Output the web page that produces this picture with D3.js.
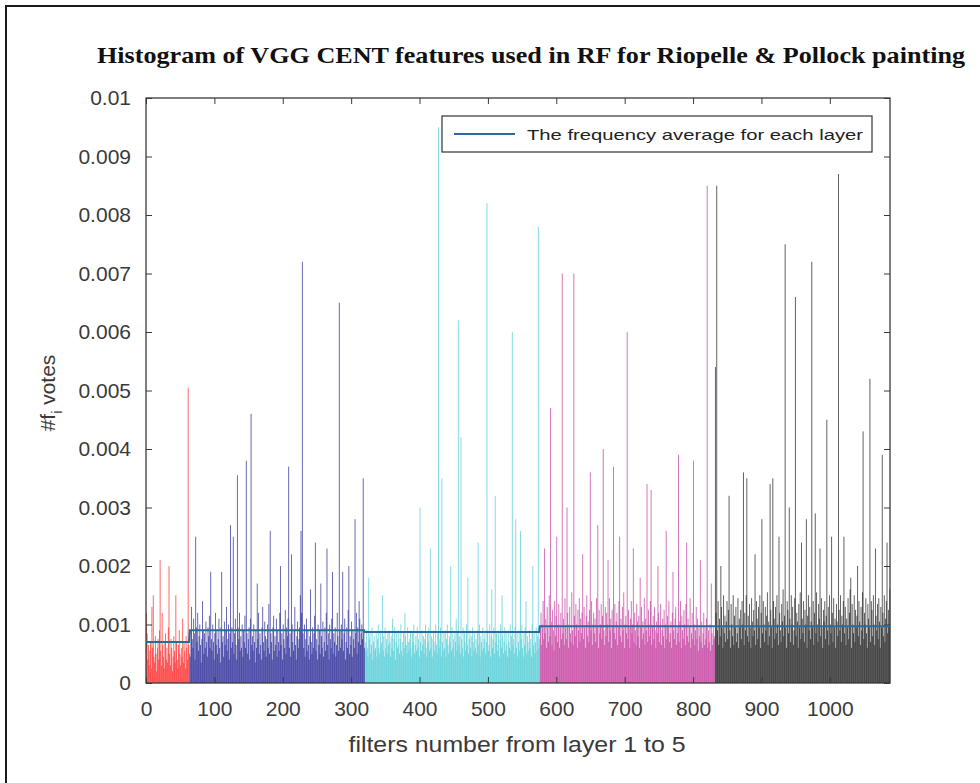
<!DOCTYPE html>
<html>
<head>
<meta charset="utf-8">
<script src="https://cdn.jsdelivr.net/npm/d3@7"></script>
<style>
  body { margin: 0; background: #fff; }
  svg { display: block; }
</style>
</head>
<body>
<div id="histogram"></div>
<script>
// votes per filter, in units of 1e-5
const layer1 = [120, 85, 40, 65, 30, 55, 70, 25, 130, 60, 150, 45, 35, 80, 50, 20,
  60, 75, 40, 90, 210, 55, 30, 120, 65, 45, 25, 70, 85, 40, 60, 35,
  95, 200, 50, 30, 75, 60, 20, 45, 80, 55, 35, 150, 70, 40, 25, 65,
  90, 50, 30, 60, 45, 110, 35, 70, 55, 25, 80, 60, 40, 505, 65, 50];

const layer2 = [45, 90, 130, 75, 60, 110, 85, 40, 250, 95, 70, 120, 55, 80, 100, 65,
  35, 75, 140, 90, 50, 85, 60, 105, 70, 45, 95, 80, 115, 60, 190, 75,
  55, 100, 70, 40, 85, 120, 65, 90, 50, 75, 110, 60, 35, 95, 190, 70,
  80, 45, 105, 65, 90, 130, 55, 75, 100, 40, 85, 270, 60, 95, 70, 250,
  50, 85, 110, 65, 40, 355, 95, 75, 120, 55, 80, 60, 100, 45, 90, 70,
  115, 60, 380, 85, 50, 75, 95, 40, 110, 460, 65, 80, 55, 100, 70, 35,
  90, 60, 170, 75, 120, 50, 85, 65, 40, 95, 130, 70, 55, 105, 80, 45,
  75, 100, 60, 135, 50, 260, 85, 70, 40, 95, 115, 55, 80, 65, 110, 45,
  90, 70, 55, 120, 200, 65, 85, 40, 100, 75, 60, 125, 50, 95, 80, 110,
  370, 60, 85, 45, 220, 100, 70, 55, 90, 130, 65, 40, 80, 105, 60, 75,
  95, 150, 260, 120, 720, 85, 60, 100, 45, 75, 110, 55, 90, 65, 40, 80,
  160, 70, 50, 95, 60, 85, 115, 240, 55, 75, 40, 100, 65, 90, 50, 170,
  80, 60, 105, 45, 70, 95, 55, 120, 230, 65, 85, 40, 100, 75, 60, 110,
  190, 50, 85, 70, 95, 45, 65, 120, 80, 55, 650, 90, 60, 100, 75, 190,
  55, 85, 110, 40, 70, 95, 60, 125, 200, 50, 80, 65, 105, 45, 90, 75,
  60, 280, 85, 120, 50, 95, 70, 140, 110, 65, 85, 100, 75, 350, 90, 60];

const layer3 = [70, 55, 90, 60, 45, 180, 75, 85, 50, 65, 95, 40, 70, 80, 55, 60,
  85, 45, 75, 100, 60, 50, 90, 65, 70, 150, 55, 80, 45, 95, 60, 75,
  50, 85, 65, 90, 70, 45, 80, 60, 110, 55, 75, 95, 40, 70, 85, 60,
  65, 90, 50, 75, 100, 55, 70, 45, 85, 60, 120, 80, 65, 50, 95, 70,
  55, 75, 90, 60, 45, 85, 70, 100, 50, 65, 80, 55, 95, 60, 75, 45,
  300, 70, 55, 90, 65, 80, 50, 75, 100, 60, 45, 85, 70, 95, 55, 230,
  60, 80, 45, 75, 90, 55, 70, 100, 65, 50, 85, 950, 60, 75, 95, 45,
  350, 70, 55, 85, 60, 90, 45, 75, 100, 65, 50, 80, 70, 200, 55, 95,
  60, 75, 45, 85, 70, 110, 55, 90, 620, 65, 80, 50, 420, 75, 60, 95,
  45, 85, 70, 55, 100, 65, 180, 50, 75, 90, 60, 80, 45, 95, 70, 55,
  85, 60, 75, 50, 90, 240, 65, 100, 45, 80, 70, 55, 95, 60, 75, 85,
  50, 70, 820, 90, 55, 65, 100, 45, 80, 160, 60, 75, 95, 50, 320, 70,
  85, 55, 65, 90, 45, 75, 100, 60, 150, 80, 50, 70, 95, 55, 85, 65,
  45, 90, 70, 60, 100, 55, 80, 600, 65, 75, 50, 95, 280, 60, 85, 45,
  70, 90, 55, 260, 75, 100, 60, 45, 85, 65, 95, 140, 50, 80, 70, 55,
  90, 60, 75, 45, 100, 200, 65, 85, 50, 70, 95, 55, 80, 780, 60, 75];

const layer4 = [90, 120, 65, 100, 140, 75, 230, 85, 110, 60, 130, 95, 70, 150, 80, 470,
  105, 65, 125, 90, 55, 140, 80, 115, 250, 70, 100, 135, 60, 95, 120, 75,
  700, 85, 110, 65, 145, 95, 75, 300, 120, 60, 100, 130, 85, 70, 155, 90,
  65, 700, 115, 80, 135, 100, 60, 125, 90, 145, 70, 110, 85, 120, 220, 75,
  130, 95, 60, 115, 150, 80, 105, 70, 125, 360, 90, 140, 65, 100, 120, 85,
  110, 70, 145, 95, 270, 60, 125, 85, 100, 135, 75, 115, 400, 90, 65, 130,
  80, 120, 100, 210, 70, 145, 90, 110, 60, 125, 95, 370, 85, 135, 75, 105,
  120, 65, 95, 140, 250, 80, 110, 70, 130, 90, 155, 60, 100, 115, 85, 600,
  75, 125, 95, 60, 110, 140, 85, 100, 230, 70, 120, 90, 65, 135, 105, 80,
  115, 60, 180, 95, 130, 75, 105, 85, 145, 65, 110, 90, 340, 70, 125, 100,
  80, 140, 330, 65, 95, 115, 75, 130, 90, 60, 105, 85, 200, 120, 70, 100,
  135, 65, 90, 110, 80, 125, 60, 100, 260, 75, 115, 95, 140, 70, 85, 105,
  60, 120, 190, 90, 75, 110, 130, 65, 95, 85, 390, 70, 105, 140, 60, 115,
  90, 75, 125, 100, 65, 135, 240, 80, 110, 70, 95, 145, 60, 85, 120, 75,
  380, 100, 65, 90, 130, 75, 110, 55, 95, 80, 210, 70, 105, 60, 85, 120,
  65, 95, 75, 110, 850, 60, 90, 70, 100, 55, 170, 85, 65, 95, 75, 80];

const layer5 = [540, 120, 850, 90, 140, 65, 110, 80, 200, 130, 95, 60, 150, 85, 115, 70,
  105, 140, 75, 125, 320, 90, 60, 135, 100, 80, 150, 65, 115, 95, 130, 70,
  85, 145, 60, 110, 95, 125, 75, 140, 100, 360, 65, 120, 90, 150, 350, 80,
  115, 70, 135, 95, 60, 145, 105, 80, 125, 90, 220, 65, 140, 110, 75, 130,
  95, 150, 60, 120, 280, 85, 140, 100, 70, 130, 90, 115, 155, 65, 105, 80,
  340, 125, 95, 60, 350, 140, 110, 75, 130, 85, 150, 100, 65, 250, 120, 90,
  70, 135, 105, 160, 80, 115, 750, 95, 60, 140, 125, 85, 300, 110, 70, 150,
  100, 130, 65, 90, 145, 660, 80, 120, 105, 60, 135, 95, 155, 75, 240, 110,
  85, 140, 70, 125, 100, 280, 60, 115, 150, 90, 130, 75, 105, 720, 95, 140,
  65, 120, 290, 85, 155, 100, 70, 135, 110, 230, 80, 145, 95, 60, 125, 105,
  140, 75, 115, 450, 90, 130, 65, 150, 100, 85, 250, 120, 70, 145, 95, 110,
  60, 135, 105, 80, 870, 125, 90, 150, 70, 115, 100, 140, 250, 85, 130, 65,
  110, 95, 145, 75, 120, 160, 180, 60, 135, 100, 85, 150, 70, 125, 95, 115,
  200, 80, 140, 105, 65, 130, 90, 155, 430, 75, 120, 100, 145, 85, 60, 135,
  110, 95, 520, 70, 140, 125, 80, 150, 100, 65, 230, 115, 90, 135, 75, 145,
  105, 60, 130, 95, 390, 120, 80, 150, 70, 110, 140, 240, 85, 125, 100, 160];

const layerColors = ['#ff1f1f', '#1f1f92', '#48cad4', '#c0339a', '#141414'];
const layerAverages = [0.0007, 0.0009, 0.00087, 0.00097, 0.00097];

const xTicks = [0, 100, 200, 300, 400, 500, 600, 700, 800, 900, 1000];
const yTicks = [0, 0.001, 0.002, 0.003, 0.004, 0.005, 0.006, 0.007, 0.008, 0.009, 0.01];
const yTickLabels = ['0', '0.001', '0.002', '0.003', '0.004', '0.005', '0.006', '0.007', '0.008', '0.009', '0.01'];

const TITLE = 'Histogram of VGG CENT features used in RF for Riopelle & Pollock painting';
const LEGEND_TEXT = 'The frequency average for each layer';
const XLABEL = 'filters number from layer 1 to 5';

const W = 980, H = 783;
const margin = { top: 98, left: 146, right: 90, bottom: 100 };
const FONT = 'Arial, "Liberation Sans", sans-serif';
const AXIS_COLOR = '#3a3a3a';

// flatten layers into bars
const layers = [layer1, layer2, layer3, layer4, layer5];
let bars = [];
let layerSpans = [];
let start = 0;
layers.forEach((layer, li) => {
    layer.forEach((v, j) => {
        bars.push({ idx: start + j, value: v * 1e-5, layer: li });
    });
    layerSpans.push({ start: start, end: start + layer.length, avg: layerAverages[li] });
    start += layer.length;
});
const N = bars.length;

const xScale = d3.scaleLinear().domain([0, N]).range([margin.left, W - margin.right]);
const yScale = d3.scaleLinear().domain([0, 0.01]).range([H - margin.bottom, margin.top]);
const barW = (xScale(1) - xScale(0)) * 1.3;

const svg = d3.select('#histogram')
    .append('svg')
    .attr('width', W)
    .attr('height', H);

svg.append('rect').attr('width', W).attr('height', H).attr('fill', '#fff');

// outer frame of the figure (only top and left edges show)
svg.append('path')
    .attr('d', `M6,${H} L6,6 L${W},6`)
    .attr('fill', 'none')
    .attr('stroke', '#1a1a1a')
    .attr('stroke-width', 2);

/** title */
svg.append('text')
    .attr('x', 531)
    .attr('y', 63)
    .attr('text-anchor', 'middle')
    .attr('font-family', '"Liberation Serif", "Times New Roman", serif')
    .attr('font-weight', 'bold')
    .attr('font-size', 23)
    .attr('textLength', 868)
    .attr('lengthAdjust', 'spacingAndGlyphs')
    .attr('fill', '#111')
    .text(TITLE);

/** bars */
svg.append('g')
    .selectAll('rect')
    .data(bars)
    .enter()
    .append('rect')
    .attr('x', d => xScale(d.idx))
    .attr('y', d => yScale(d.value))
    .attr('width', barW)
    .attr('height', d => yScale(0) - yScale(d.value))
    .attr('fill', d => layerColors[d.layer])
    .attr('fill-opacity', 0.75);

/** axes: ticks pointing inward, box on */
const plotTop = yScale(0.01), plotBottom = yScale(0);
const plotLeft = xScale(0), plotRight = xScale(N);

function styleAxis(g) {
    g.select('.domain').remove();
    g.selectAll('.tick line').attr('stroke', AXIS_COLOR);
    g.selectAll('.tick text')
        .attr('fill', AXIS_COLOR)
        .style('font-family', FONT)
        .style('font-size', '21px');
}

svg.append('g')
    .attr('transform', `translate(0, ${plotBottom})`)
    .call(d3.axisBottom(xScale).tickValues(xTicks).tickSizeInner(-6).tickSizeOuter(0).tickPadding(18)
        .tickFormat(d3.format('d')))
    .call(styleAxis);

svg.append('g')
    .attr('transform', `translate(0, ${plotTop})`)
    .call(d3.axisTop(xScale).tickValues(xTicks).tickSizeInner(-6).tickSizeOuter(0).tickFormat(''))
    .call(styleAxis);

svg.append('g')
    .attr('transform', `translate(${plotLeft}, 0)`)
    .call(d3.axisLeft(yScale).tickValues(yTicks).tickSizeInner(-6).tickSizeOuter(0).tickPadding(15)
        .tickFormat((d, i) => yTickLabels[i]))
    .call(styleAxis);

svg.append('g')
    .attr('transform', `translate(${plotRight}, 0)`)
    .call(d3.axisRight(yScale).tickValues(yTicks).tickSizeInner(-6).tickSizeOuter(0).tickFormat(''))
    .call(styleAxis);

svg.append('rect')
    .attr('x', plotLeft)
    .attr('y', plotTop)
    .attr('width', plotRight - plotLeft)
    .attr('height', plotBottom - plotTop)
    .attr('fill', 'none')
    .attr('stroke', AXIS_COLOR)
    .attr('stroke-width', 1.3);

/** average line for each layer */
let avgPoints = [];
layerSpans.forEach(s => {
    avgPoints.push([s.start, s.avg]);
    avgPoints.push([s.end - 1, s.avg]);
});
avgPoints[avgPoints.length - 1][0] = N;

const avgLine = d3.line()
    .x(d => xScale(d[0]))
    .y(d => yScale(d[1]));

svg.append('path')
    .datum(avgPoints)
    .attr('d', avgLine)
    .attr('fill', 'none')
    .attr('stroke', '#2a6a9e')
    .attr('stroke-width', 2);

/** legend */
const legend = svg.append('g').attr('transform', 'translate(442, 116)');
legend.append('rect')
    .attr('width', 430)
    .attr('height', 36)
    .attr('fill', '#fff')
    .attr('stroke', '#333')
    .attr('stroke-width', 1.2);
legend.append('line')
    .attr('x1', 12).attr('x2', 73)
    .attr('y1', 18).attr('y2', 18)
    .attr('stroke', '#2a6a9e')
    .attr('stroke-width', 2.2);
legend.append('text')
    .attr('x', 85)
    .attr('y', 24)
    .attr('font-family', FONT)
    .attr('font-size', 15)
    .attr('textLength', 336)
    .attr('lengthAdjust', 'spacingAndGlyphs')
    .attr('fill', '#222')
    .text(LEGEND_TEXT);

/** axis labels */
svg.append('text')
    .attr('x', 517)
    .attr('y', 752)
    .attr('text-anchor', 'middle')
    .attr('font-family', FONT)
    .attr('font-size', 22)
    .attr('textLength', 337)
    .attr('lengthAdjust', 'spacingAndGlyphs')
    .attr('fill', AXIS_COLOR)
    .text(XLABEL);

const ylab = svg.append('text')
    .attr('transform', 'translate(55, 393) rotate(-90)')
    .attr('text-anchor', 'middle')
    .attr('font-family', FONT)
    .attr('font-size', 21)
    .attr('fill', AXIS_COLOR);
ylab.append('tspan').text('#f');
ylab.append('tspan').attr('font-size', 14).attr('dy', 7).text('i');
ylab.append('tspan').attr('dy', -7).text(' votes');
</script>
</body>
</html>
